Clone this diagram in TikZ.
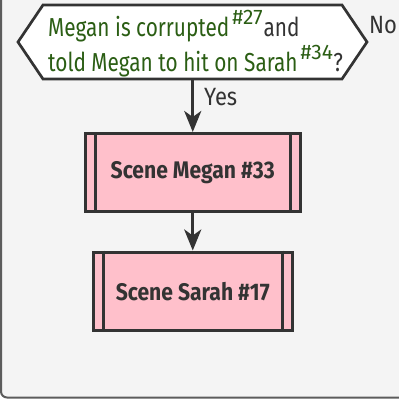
\documentclass[tikz,border=0pt]{standalone}
\usepackage{fontspec}
\setmainfont{Fira Sans}[FakeStretch=0.88]
\newfontfamily\decfont{Fira Sans}[FakeStretch=0.80]
\newfontfamily\supfont{Fira Sans}
\usetikzlibrary{arrows.meta}
\definecolor{bgc}{HTML}{F4F4F4}
\definecolor{lnc}{HTML}{333333}
\definecolor{pinkc}{HTML}{FFC0CB}
\definecolor{grn}{HTML}{2B5E14}
\newcommand{\supref}[1]{\hspace{3pt}{\supfont\fontsize{21}{22}\selectfont\raisebox{12pt}{#1}}}
\tikzset{
  every picture/.style={x=1pt,y=-1pt},
  edge/.style={draw=lnc,line width=3pt,-{Stealth[length=21pt,width=17pt,inset=6pt]}},
  subbox/.style={draw=lnc,line width=3pt,fill=pinkc},
  lbl/.style={text=lnc,font=\fontsize{25}{28}\selectfont,inner sep=0pt},
  decisiontext/.style={anchor=base west,inner sep=0pt,text=grn,font=\decfont\fontsize{26}{29}\selectfont},
  scenetext/.style={text=lnc,font=\bfseries\fontsize{24}{27}\selectfont,inner sep=0pt},
}
\begin{document}
\begin{tikzpicture}
\useasboundingbox (0,0) rectangle (399,399);
% background panel
\draw[draw=lnc!80,line width=2pt,fill=bgc,rounded corners=6pt] (1,-20) rectangle (420,397.5);
% decision
\draw[draw=lnc,line width=2.7pt,fill=white] (18,42) -- (43,5) -- (342,5) -- (367,42) -- (342,79) -- (43,79) -- cycle;
\coordinate (dbot) at (192.75,80);
\node[decisiontext] (l1) at (48,36)
  {Megan is corrupted\supref{\#27}\hspace{1pt}\textcolor{lnc}{and}};
\node[decisiontext] (l2) at (48,71)
  {told Megan to hit on Sarah\supref{\#34}\hspace{0.5pt}\textcolor{lnc}{?}};
\node[lbl,anchor=base west] (no) at (369,33) {No};
% boxes
\node[subbox,minimum width=215.5pt,minimum height=78pt,inner sep=0pt] (m33) at (192.75,172.5) {};
\draw[lnc,line width=3pt] ([xshift=11.5pt]m33.north west) -- ([xshift=11.5pt]m33.south west);
\draw[lnc,line width=3pt] ([xshift=-11.5pt]m33.north east) -- ([xshift=-11.5pt]m33.south east);
\node[scenetext] at (m33.center) {Scene Megan \#33};
\node[subbox,minimum width=198.5pt,minimum height=78.5pt,inner sep=0pt] (s17) at (192.75,291.25) {};
\draw[lnc,line width=3pt] ([xshift=11.5pt]s17.north west) -- ([xshift=11.5pt]s17.south west);
\draw[lnc,line width=3pt] ([xshift=-11.5pt]s17.north east) -- ([xshift=-11.5pt]s17.south east);
\node[scenetext] at (s17.center) {Scene Sarah \#17};
% edges
\draw[edge] (dbot) -- (m33.north);
\node[lbl,anchor=base west] (yes) at (204,105) {Yes};
\draw[edge] (m33.south) -- (s17.north);
\end{tikzpicture}
\end{document}
